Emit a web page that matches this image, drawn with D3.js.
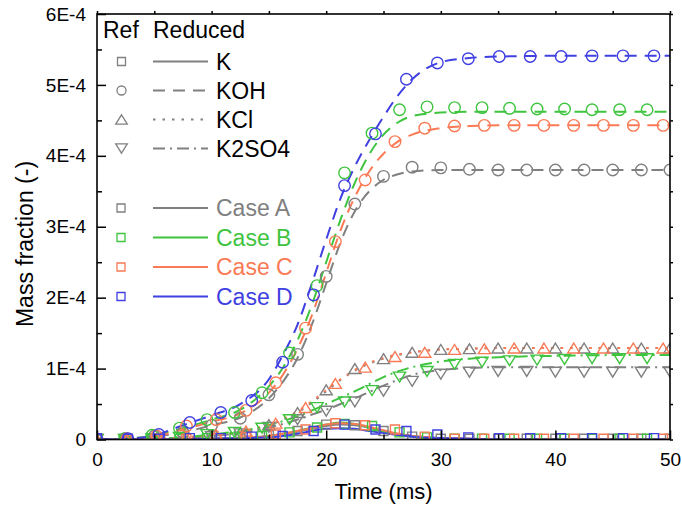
<!DOCTYPE html>
<html><head><meta charset="utf-8">
<script src="https://cdn.jsdelivr.net/npm/d3@7"></script>
<style>
body{margin:0;background:#fff}
svg{display:block}
text{font-family:"Liberation Sans",Arial,Helvetica,sans-serif}
</style>
</head><body>
<svg id="chart" width="682" height="510"></svg>
<script>
// ---------- DATA (mass fraction in units of 1E-4, time in ms) ----------
const caseNames = ["Case A", "Case B", "Case C", "Case D"];
const speciesNames = ["K", "KOH", "KCl", "K2SO4"];
const xTicks = [0, 10, 20, 30, 40, 50];
const xMinorTicks = [5, 15, 25, 35, 45];
const yTicks = [0, 1, 2, 3, 4, 5, 6];
const yTickLabels = ["0", "1E-4", "2E-4", "3E-4", "4E-4", "5E-4", "6E-4"];
const yMinorTicks = [0.5, 1.5, 2.5, 3.5, 4.5, 5.5];

// Reference (detailed mechanism) sample times per case
const refTimeA = [0,2.5,5,7.5,10,12.5,15,17.5,20,22.5,25,27.5,30,32.5,35,37.5,40,42.5,45,47.5,50];
const refTimeB = [0,2.4,4.8,7.2,9.6,12,14.4,16.8,19.2,21.6,24,26.4,28.8,31.2,33.6,36,38.4,40.8,43.2,45.6,48];
const refTimeC = [0,2.6,5.2,7.8,10.4,13,15.6,18.2,20.8,23.4,26,28.6,31.2,33.8,36.4,39,41.6,44.2,46.8,49.4];
const refTimeD = [0,2.7,5.4,8.1,10.8,13.5,16.2,18.9,21.6,24.3,27,29.7,32.4,35.1,37.8,40.5,43.2,45.9,48.6];

// Reference values
const refK_A     = [0.01,0,0.01,0.01,0.02,0.03,0.06,0.12,0.21,0.20,0.12,0.04,0.01,0.01,0.01,0.01,0.01,0.01,0.01,0.01,0.01];
const refK_B     = [0.01,0,0.01,0.01,0.02,0.03,0.05,0.10,0.17,0.22,0.19,0.10,0.03,0.01,0.01,0.01,0.01,0.01,0.01,0.01,0.01];
const refK_C     = [0.01,0,0.01,0.01,0.02,0.03,0.07,0.14,0.23,0.20,0.14,0.04,0.01,0.01,0.01,0.01,0.01,0.01,0.01,0.01];
const refK_D     = [0.02,0.01,0.01,0.02,0.02,0.04,0.05,0.12,0.21,0.14,0.12,0.07,0.03,0.02,0.02,0.02,0.02,0.02,0.02];
const refKOH_A   = [0,0.01,0.05,0.10,0.20,0.30,0.63,1.20,2.30,3.32,3.71,3.84,3.83,3.81,3.80,3.80,3.80,3.80,3.80,3.80,3.80];
const refKOH_B   = [0,0.01,0.06,0.16,0.28,0.38,0.66,1.22,2.17,3.76,4.32,4.65,4.69,4.68,4.68,4.67,4.66,4.66,4.65,4.65,4.65];
const refKOH_C   = [0,0.01,0.05,0.19,0.28,0.41,0.80,1.57,2.79,3.66,4.20,4.39,4.42,4.43,4.43,4.43,4.43,4.43,4.43,4.43];
const refKOH_D   = [0,0.01,0.07,0.24,0.38,0.55,1.09,2.04,3.58,4.31,5.08,5.31,5.37,5.40,5.40,5.40,5.41,5.41,5.41];
const refKCl_A   = [0,0,0.01,0.02,0.05,0.10,0.21,0.38,0.70,1.00,1.14,1.23,1.27,1.28,1.29,1.29,1.29,1.29,1.29,1.29,1.29];
const refKCl_C   = [0,0,0.01,0.03,0.07,0.12,0.23,0.45,0.79,1.02,1.17,1.23,1.27,1.28,1.29,1.29,1.29,1.29,1.29,1.29];
const refK2SO4_A = [0,0,0.01,0.02,0.04,0.08,0.17,0.28,0.40,0.53,0.68,0.82,0.92,0.95,0.96,0.96,0.95,0.95,0.95,0.95,0.95];
const refK2SO4_B = [0,0,0.01,0.03,0.07,0.10,0.16,0.28,0.45,0.53,0.69,0.88,0.96,1.06,1.09,1.11,1.12,1.13,1.14,1.14,1.14];

// Reduced mechanism curves
const redTime = [0,2.5,5,7.5,10,12.5,15,16.25,17.5,18.75,20,21.25,22.5,23.75,25,26.25,27.5,30,32.5,35,40,45,50];
const redK_A     = [0,0,0,0,0.01,0.02,0.05,0.08,0.11,0.15,0.19,0.21,0.20,0.17,0.12,0.08,0.05,0.02,0.01,0,0,0,0];
const redK_B     = [0,0,0,0,0.01,0.02,0.05,0.08,0.12,0.17,0.21,0.24,0.22,0.17,0.11,0.07,0.04,0.01,0,0,0,0,0];
const redK_C     = [0,0,0,0,0.01,0.02,0.05,0.08,0.12,0.16,0.21,0.23,0.22,0.18,0.13,0.08,0.05,0.02,0.01,0,0,0,0];
const redK_D     = [0,0,0,0,0.01,0.02,0.03,0.05,0.08,0.12,0.15,0.16,0.15,0.12,0.09,0.06,0.04,0.02,0.01,0,0,0,0];
const redKOH_A   = [0,0.01,0.04,0.10,0.20,0.31,0.58,0.82,1.15,1.62,2.20,2.78,3.22,3.50,3.66,3.74,3.78,3.80,3.80,3.80,3.80,3.80,3.80];
const redKOH_B   = [0,0.01,0.06,0.16,0.28,0.42,0.75,1.02,1.40,1.90,2.50,3.10,3.62,4.02,4.30,4.47,4.56,4.61,4.62,4.62,4.62,4.62,4.62];
const redKOH_C   = [0,0.01,0.04,0.14,0.25,0.37,0.66,0.92,1.28,1.75,2.35,2.95,3.42,3.78,4.03,4.20,4.30,4.39,4.42,4.43,4.43,4.43,4.43];
const redKOH_D   = [0,0.01,0.06,0.20,0.34,0.50,0.85,1.20,1.62,2.20,2.82,3.40,3.85,4.22,4.55,4.85,5.08,5.32,5.38,5.40,5.41,5.41,5.41];
const redKCl_A   = [0,0,0.01,0.02,0.05,0.10,0.20,0.28,0.38,0.52,0.68,0.84,0.97,1.07,1.14,1.19,1.23,1.27,1.28,1.29,1.29,1.29,1.29];
const redKCl_C   = [0,0,0.01,0.03,0.06,0.11,0.21,0.29,0.40,0.54,0.70,0.85,0.98,1.08,1.15,1.20,1.23,1.27,1.28,1.29,1.29,1.29,1.29];
const redK2SO4_A = [0,0,0.01,0.02,0.05,0.09,0.17,0.22,0.28,0.35,0.42,0.50,0.58,0.67,0.76,0.84,0.91,0.98,1.01,1.02,1.02,1.02,1.02];
const redK2SO4_B = [0,0,0.01,0.03,0.07,0.12,0.20,0.26,0.33,0.41,0.50,0.59,0.68,0.78,0.88,0.96,1.02,1.10,1.14,1.16,1.18,1.19,1.19];

// ---------- STYLE ----------
const caseColors = ["#808080", "#3ec43e", "#fa7a55", "#4040e2"];
const speciesDash = {K: null, KOH: "12,8", KCl: "2.5,7", K2SO4: "12,5,2,5"};
const speciesMarker = {K: "square", KOH: "circle", KCl: "up", K2SO4: "down"};

// ---------- BUILD SERIES ----------
const series = [
  {c:0, sp:"K",     refT:refTimeA, ref:refK_A,     red:redK_A},
  {c:0, sp:"KOH",   refT:refTimeA, ref:refKOH_A,   red:redKOH_A},
  {c:0, sp:"KCl",   refT:refTimeA, ref:refKCl_A,   red:redKCl_A},
  {c:0, sp:"K2SO4", refT:refTimeA, ref:refK2SO4_A, red:redK2SO4_A},
  {c:1, sp:"K",     refT:refTimeB, ref:refK_B,     red:redK_B},
  {c:1, sp:"KOH",   refT:refTimeB, ref:refKOH_B,   red:redKOH_B},
  {c:1, sp:"K2SO4", refT:refTimeB, ref:refK2SO4_B, red:redK2SO4_B},
  {c:2, sp:"K",     refT:refTimeC, ref:refK_C,     red:redK_C},
  {c:2, sp:"KOH",   refT:refTimeC, ref:refKOH_C,   red:redKOH_C},
  {c:2, sp:"KCl",   refT:refTimeC, ref:refKCl_C,   red:redKCl_C},
  {c:3, sp:"K",     refT:refTimeD, ref:refK_D,     red:redK_D},
  {c:3, sp:"KOH",   refT:refTimeD, ref:refKOH_D,   red:redKOH_D}
];

// ---------- LAYOUT ----------
const svg = d3.select("#chart");
const L = 97, R = 670, T = 14, B = 439.5;
const x = d3.scaleLinear().domain([0, 50]).range([L, R]);
const y = d3.scaleLinear().domain([0, 6]).range([B, T]);
const FONT = '"Liberation Sans",Arial,Helvetica,sans-serif';

svg.append("defs").append("clipPath").attr("id", "clip")
  .append("rect").attr("x", L).attr("y", T).attr("width", R - L).attr("height", B - T);

function markerPath(type, s) {
  if (type === "square") { const h = s / 2; return `M${-h},${-h}H${h}V${h}H${-h}Z`; }
  if (type === "circle") { const r = s / 2; return `M${r},0A${r},${r} 0 1,1 ${-r},0A${r},${r} 0 1,1 ${r},0Z`; }
  const w = s * 0.58, hh = s * 0.47;
  if (type === "up") return `M0,${-hh}L${w},${hh}L${-w},${hh}Z`;
  return `M0,${hh}L${w},${-hh}L${-w},${-hh}Z`;
}
const markerSize = {square: 9, circle: 11.5, up: 10.5, down: 10.5};

const plot = svg.append("g").attr("clip-path", "url(#clip)");
const line = d3.line().x(d => x(d[0])).y(d => y(d[1])).curve(d3.curveMonotoneX);

// lines
series.forEach(s => {
  const pts = redTime.map((t, i) => [t, s.red[i]]);
  plot.append("path").datum(pts)
    .attr("d", line)
    .attr("fill", "none")
    .attr("stroke", caseColors[s.c])
    .attr("stroke-width", 2)
    .attr("stroke-dasharray", speciesDash[s.sp]);
});
// markers
series.forEach(s => {
  const type = speciesMarker[s.sp];
  plot.append("g").selectAll("path")
    .data(s.refT.map((t, i) => [t, s.ref[i]]))
    .join("path")
    .attr("transform", d => `translate(${x(d[0])},${y(d[1])})`)
    .attr("d", markerPath(type, markerSize[type]))
    .attr("fill", "none")
    .attr("stroke", caseColors[s.c])
    .attr("stroke-width", 1.4);
});

// ---------- AXES ----------
function styleAxis(g) {
  g.select(".domain").remove();
  g.selectAll("line").attr("stroke", "#000").attr("stroke-width", 1.5);
  g.selectAll("text").attr("font-family", FONT).attr("font-size", 19).attr("fill", "#000");
}
svg.append("g").attr("transform", `translate(0,${B})`)
  .call(d3.axisBottom(x).tickValues(xTicks).tickFormat(d3.format("d")).tickSizeInner(-9).tickSizeOuter(0).tickPadding(13))
  .call(styleAxis);
svg.append("g").attr("transform", `translate(0,${B})`)
  .call(d3.axisBottom(x).tickValues(xMinorTicks).tickFormat("").tickSizeInner(-5).tickSizeOuter(0))
  .call(styleAxis);
svg.append("g").attr("transform", `translate(${L},0)`)
  .call(d3.axisLeft(y).tickValues(yTicks).tickFormat((d, i) => yTickLabels[i]).tickSizeInner(-9).tickSizeOuter(0).tickPadding(11))
  .call(styleAxis);
svg.append("g").attr("transform", `translate(${L},0)`)
  .call(d3.axisLeft(y).tickValues(yMinorTicks).tickFormat("").tickSizeInner(-5).tickSizeOuter(0))
  .call(styleAxis);
svg.append("g").attr("transform", `translate(0,${T})`)
  .call(d3.axisTop(x).tickValues(xTicks.concat(xMinorTicks)).tickFormat("").tickSizeInner(3).tickSizeOuter(0))
  .call(styleAxis);
svg.append("g").attr("transform", `translate(${R},0)`)
  .call(d3.axisRight(y).tickValues(yTicks.concat(yMinorTicks)).tickFormat("").tickSizeInner(3).tickSizeOuter(0))
  .call(styleAxis);

svg.append("rect").attr("x", L).attr("y", T).attr("width", R - L).attr("height", B - T)
  .attr("fill", "none").attr("stroke", "#000").attr("stroke-width", 1.6);

// titles
svg.append("text").attr("x", (L + R) / 2).attr("y", 499).attr("text-anchor", "middle")
  .attr("font-family", FONT).attr("font-size", 22).text("Time (ms)");
svg.append("text").attr("transform", `translate(33,${244}) rotate(-90)`).attr("text-anchor", "middle")
  .attr("font-family", FONT).attr("font-size", 23).text("Mass fraction (-)");

// ---------- LEGEND ----------
const leg = svg.append("g");
const legFS = 23;
leg.append("text").attr("x", 103).attr("y", 37.5).attr("font-family", FONT).attr("font-size", legFS).text("Ref");
leg.append("text").attr("x", 153).attr("y", 37.5).attr("font-family", FONT).attr("font-size", legFS).text("Reduced");
const legRowsSp = [61.5, 90.5, 119.5, 148.5];
const legLegendMarkerSize = {square: 8, circle: 9, up: 10, down: 10};
speciesNames.forEach((sp, i) => {
  const yy = legRowsSp[i];
  const type = speciesMarker[sp];
  leg.append("path").attr("transform", `translate(121.5,${yy})`)
    .attr("d", markerPath(type, legLegendMarkerSize[type]))
    .attr("fill", "none").attr("stroke", caseColors[0]).attr("stroke-width", 1.3);
  leg.append("line").attr("x1", 153).attr("x2", 208).attr("y1", yy).attr("y2", yy)
    .attr("stroke", caseColors[0]).attr("stroke-width", 2).attr("stroke-dasharray", speciesDash[sp]);
  leg.append("text").attr("x", 216).attr("y", yy + 8.2).attr("font-family", FONT).attr("font-size", legFS).text(sp);
});
const legRowsCase = [208, 237.5, 267, 296.5];
caseNames.forEach((cn, i) => {
  const yy = legRowsCase[i];
  leg.append("path").attr("transform", `translate(121,${yy})`)
    .attr("d", markerPath("square", 8))
    .attr("fill", "none").attr("stroke", caseColors[i]).attr("stroke-width", 1.3);
  leg.append("line").attr("x1", 153).attr("x2", 208).attr("y1", yy).attr("y2", yy)
    .attr("stroke", caseColors[i]).attr("stroke-width", 2);
  leg.append("text").attr("x", 216).attr("y", yy + 8.2).attr("font-family", FONT).attr("font-size", legFS)
    .attr("fill", caseColors[i]).text(cn);
});
</script>
</body></html>
